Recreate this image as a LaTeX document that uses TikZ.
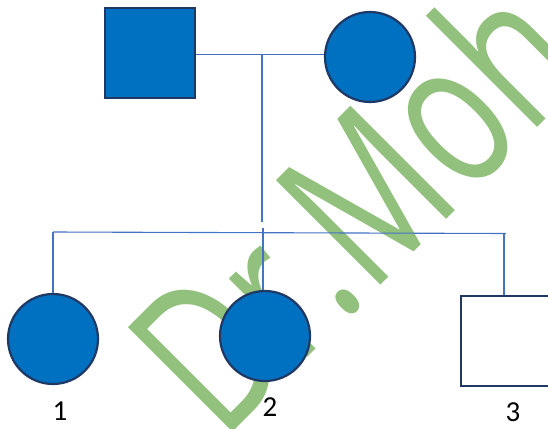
\documentclass[tikz,border=0pt]{standalone}
\usepackage{fontspec}
\usepackage{graphicx}
\setmainfont{Carlito}
\newfontfamily\wmfont{Open Sans}
\definecolor{affblue}{HTML}{0070C0}
\definecolor{edgenavy}{HTML}{1F3864}
\definecolor{linkblue}{HTML}{4472C4}
\definecolor{wmgreen}{HTML}{92C07D}
\tikzset{
  person/.style={draw=edgenavy, line width=2.2pt, minimum size=90pt, inner sep=0pt},
  malebox/.style={person, rectangle},
  femalebox/.style={person, circle},
  affected/.style={fill=affblue},
  unaffected/.style={fill=white},
  link/.style={draw=linkblue, line width=1.1pt},
  idlabel/.style={inner sep=0pt, font=\fontsize{29}{29}\selectfont, text=black},
  watermark/.style={anchor=base west, inner sep=0pt, rotate=45, text=wmgreen}
}
\begin{document}
\begin{tikzpicture}[x=1pt,y=-1pt]
\useasboundingbox (0,0) rectangle (548,428);
\clip (0,0) rectangle (548,428);
% watermark
\node[watermark] (wm) at (222,443)
  {\scalebox{0.72}[1]{\wmfont\fontsize{207}{207}\selectfont Dr.Moh}};
% parents
\node[malebox, affected] (f) at (150,53) {};
\node[femalebox, affected] (m) at (370,57) {};
% children
\node[femalebox, affected] (c1) at (53,339) {};
\node[femalebox, affected] (c2) at (265,336) {};
\node[malebox, unaffected] (c3) at (506,341) {};
% labels
\node[idlabel] (l1) at (60,411) {1};
\node[idlabel] (l2) at (270,407) {2};
\node[idlabel] (l3) at (513,412) {3};
% connectors
\coordinate (mar) at (262,54.5);
\coordinate (descend) at (262,222);
\coordinate (sibL) at (53,232);
\coordinate (sibR) at (506,233.5);
\coordinate (sibM) at (263,228);
\coordinate (drop3) at (504,234);
\draw[link] (f.east |- mar) -- (m.west |- mar);
\draw[link] (mar) -- (descend);
\draw[link] (sibL) -- (sibR);
\draw[link] (sibL) -- (sibL |- c1.north);
\draw[link] (sibM) -- (sibM |- c2.north);
\draw[link] (drop3) -- (drop3 |- c3.north);
\end{tikzpicture}
\end{document}
